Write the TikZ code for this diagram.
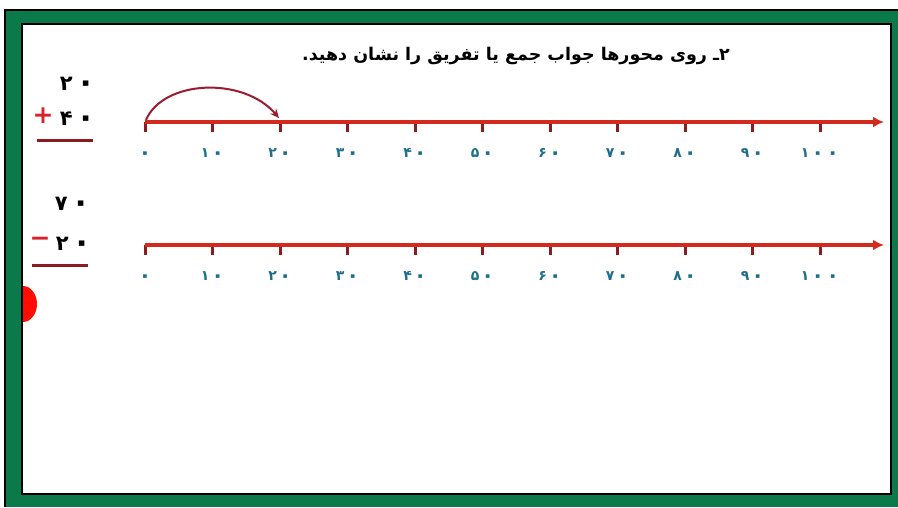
\documentclass[tikz,border=0pt]{standalone}
\usepackage{fontspec}
\usepackage{graphicx}
\usetikzlibrary{arrows.meta}
\TeXXeTstate=1
\newfontfamily\fa[Script=Arabic]{DejaVu Sans}
\newfontfamily\fadig{DejaVu Sans}
\newcommand\pzero{\raisebox{-0.12em}{\scalebox{1.5}{۰}}}
\definecolor{frgreen}{HTML}{0B7A4B}
\definecolor{axred}{HTML}{D42A1E}
\definecolor{tickred}{HTML}{8A1E1E}
\definecolor{arcred}{HTML}{9B1B30}
\definecolor{lblteal}{HTML}{1F6F8B}
\definecolor{ulred}{HTML}{8B1A22}
\definecolor{signred}{HTML}{D8232A}
\tikzset{
  axis/.style={draw=axred, line width=3.2pt, -{Latex[length=11pt,width=11pt]}},
  tickmark/.style={draw=tickred, line width=3pt},
  ticklbl/.style={text=lblteal, font=\fadig\bfseries\fontsize{14}{16}\selectfont, inner sep=0pt, text height=10pt, text depth=1pt},
  bignum/.style={text=black, font=\fadig\bfseries\fontsize{21}{24}\selectfont, inner sep=0pt, text height=15pt, text depth=1pt},
  sign/.style={text=signred, font=\fadig\bfseries\fontsize{25}{28}\selectfont, inner sep=0pt},
  underl/.style={draw=ulred, line width=3pt},
  jump/.style={draw=arcred, line width=2pt, -{Stealth[length=9pt,width=8pt]}}
}
\begin{document}
\begin{tikzpicture}[x=1pt,y=-1pt]
\useasboundingbox (0,0) rectangle (898,507);
% frame
\fill[white] (0,0) rectangle (898,507);
\fill[frgreen] (4,9) rectangle (898,507);
\draw[black, line width=1.5pt] (4.75,507) -- (4.75,9.75) -- (898,9.75);
\fill[white] (22,24) rectangle (891,494);
\draw[black, line width=2pt] (22,24) -- (891,24) -- (891,494) -- (22,494) -- cycle;
% title
\node[font=\fa\bfseries\fontsize{17.5}{20}\selectfont, inner sep=0pt] (title) at (516,56) {\beginR ۲ـ روی محورها جواب جمع یا تفریق را نشان دهید.\endR};
% red half disk
\fill[red!90!orange] (23,286) arc[start angle=-90, end angle=90, x radius=14, y radius=18] -- cycle;
% left sums
\node[bignum] (n1) at (78,83) {۲\kern4pt\pzero};
\node[sign] (plus) at (43,116) {+};
\node[bignum] (n2) at (78,118) {۴\kern4pt\pzero};
\coordinate (u1a) at (37,140); \coordinate (u1b) at (93,140);
\draw[underl] (u1a) -- (u1b);
\node[bignum] (n3) at (73,203) {۷\kern4pt\pzero};
\node[sign] (minus) at (40,242) {−};
\node[bignum] (n4) at (74,243) {۲\kern4pt\pzero};
\coordinate (u2a) at (32,265); \coordinate (u2b) at (88,265);
\draw[underl] (u2a) -- (u2b);
% axes
\foreach \row/\yy/\ly in {A/122/153, B/245/276} {
  \coordinate (\row end) at (884,\yy);
  \foreach \i/\lab in {0/\pzero,1/۱\kern2pt\pzero,2/۲\kern2pt\pzero,3/۳\kern2pt\pzero,4/۴\kern2pt\pzero,5/۵\kern2pt\pzero,6/۶\kern2pt\pzero,7/۷\kern2pt\pzero,8/۸\kern2pt\pzero,9/۹\kern2pt\pzero,10/۱\kern2pt\pzero\kern2pt\pzero} {
    \coordinate (\row\i) at ({145+67.5*\i},\yy);
    \coordinate (\row\i b) at ({145+67.5*\i},\yy+10);
    \draw[tickmark] (\row\i) -- (\row\i b);
    \node[ticklbl] (\row L\i) at ({145+67.5*\i},\ly) {\lab};
  }
  \draw[axis] (\row0) -- (\row end);
}
% jump arc
\coordinate (j0) at (146,120);
\coordinate (j1) at (279,118);
\draw[jump] (j0) .. controls (163,80) and (243,76) .. (j1);
\end{tikzpicture}
\end{document}
